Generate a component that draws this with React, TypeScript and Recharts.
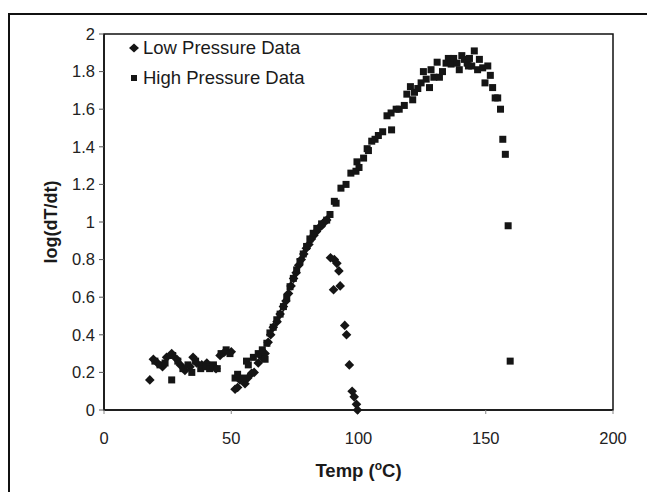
import React from "react";
import { ScatterChart, Scatter, XAxis, YAxis, ReferenceArea, Legend } from "recharts";

const lowPressureTemp = [
  18, 19.4, 21, 23, 24.6, 26.6, 28.6, 30, 31.8, 33.8, 35, 36.4, 38.4, 40.4, 42.3, 44, 45.6, 47.5, 50,
  51.5, 52.5, 53.4, 55.4, 56.5, 58, 59, 60.6, 62, 63.3, 64.5, 65.5, 66.5, 68, 69.2, 70.5, 71.5, 72.5,
  73.5, 74.5, 75.5, 76.5, 77.5, 78.5, 79.5, 80.5, 81.5, 82.5, 83.5, 84.5, 85.5, 86.5, 87.5,
  89, 90.5, 91.5, 92.3, 90.2, 92.8, 94.6, 95.3, 96.4, 97.5, 98.3, 99.2, 99.6,
];
const lowPressureLog = [
  0.16, 0.27, 0.25, 0.23, 0.28, 0.3, 0.27, 0.24, 0.21, 0.23, 0.28, 0.25, 0.24, 0.25, 0.23, 0.22, 0.29, 0.31, 0.31,
  0.11, 0.12, 0.16, 0.14, 0.17, 0.195, 0.2, 0.25, 0.28, 0.3, 0.36, 0.4, 0.44, 0.47, 0.51, 0.55, 0.58, 0.62,
  0.66, 0.7, 0.73, 0.77, 0.8, 0.83, 0.86, 0.88, 0.91, 0.93, 0.95, 0.97, 0.98, 1.0, 1.01,
  0.81, 0.8, 0.78, 0.74, 0.64, 0.66, 0.45, 0.4, 0.24, 0.1, 0.07, 0.03, 0.0,
];

const highPressureTemp = [
  20, 22, 24, 26.6, 27, 29, 31, 33, 34.5, 36, 38, 40, 41.5, 43, 44.5, 46, 48, 49.5,
  51.5, 52.5, 54.6, 56, 56.7, 58.7, 60.6, 62.2, 63.3, 64, 65.2, 66.5, 67.9, 69.2, 70.5, 71.8, 73.1,
  74.4, 75.7, 77, 78.3, 79.6, 80.9, 82.2, 83.6, 85.5, 87.5, 88.8, 90.5, 91.2, 93.1, 95.1, 97, 99,
  99.4, 100.2, 102, 103.4, 103.9, 105.2, 106.5, 107.8, 109.5, 113, 111.2, 112.8, 114.8, 116, 118,
  119, 121.3, 120.4, 122, 123.3, 124.6, 125.5, 126.6, 127.9, 128.5, 129.6, 130.9, 131.8, 133,
  134.4, 135.3, 136.4, 137.4, 138.7, 139.6, 140.6, 141.6, 142.7, 143.6, 143.2, 145.5, 144.5,
  146.8, 147.5, 148.8, 150.8, 149.7, 151.8, 152.7, 153.7, 154.7, 155.8, 156.7, 157.7, 158.8, 159.6,
];
const highPressureLog = [
  0.26, 0.24, 0.25, 0.16, 0.29, 0.26, 0.22, 0.24, 0.2, 0.26, 0.22, 0.23, 0.22, 0.24, 0.22, 0.3, 0.32, 0.3,
  0.17, 0.19, 0.17, 0.26, 0.24, 0.28, 0.3, 0.32, 0.27, 0.355, 0.41, 0.44, 0.48, 0.51, 0.55, 0.6, 0.656,
  0.7, 0.745, 0.79, 0.83, 0.87, 0.91, 0.94, 0.966, 0.99, 1.01, 1.04, 1.11, 1.1, 1.18, 1.2, 1.26, 1.27,
  1.32, 1.29, 1.34, 1.39, 1.38, 1.43, 1.44, 1.46, 1.48, 1.49, 1.565, 1.58, 1.6, 1.6, 1.62,
  1.68, 1.65, 1.72, 1.69, 1.71, 1.74, 1.8, 1.76, 1.715, 1.81, 1.77, 1.85, 1.77, 1.8,
  1.845, 1.87, 1.84, 1.87, 1.845, 1.81, 1.885, 1.865, 1.845, 1.87, 1.83, 1.91, 1.83,
  1.81, 1.865, 1.82, 1.83, 1.74, 1.78, 1.715, 1.66, 1.66, 1.6, 1.44, 1.36, 0.98, 0.26,
];

const xTicks = [0, 50, 100, 150, 200];
const yTicks = [0, 0.2, 0.4, 0.6, 0.8, 1, 1.2, 1.4, 1.6, 1.8, 2];
const seriesNames = ["Low Pressure Data", "High Pressure Data"];

const lowData = lowPressureTemp.map((t, i) => ({ temp: t, val: lowPressureLog[i] }));
const highData = highPressureTemp.map((t, i) => ({ temp: t, val: highPressureLog[i] }));

const INK = "#151515";
const FONT = "'Liberation Sans', Arial, sans-serif";

const DiamondShape = (props: any) => {
  const { cx, cy } = props;
  const r = 4.8;
  return (
    <polygon
      points={`${cx},${cy - r} ${cx + r},${cy} ${cx},${cy + r} ${cx - r},${cy}`}
      fill={INK}
    />
  );
};

const SquareShape = (props: any) => {
  const { cx, cy } = props;
  const s = 7;
  return <rect x={cx - s / 2} y={cy - s / 2} width={s} height={s} fill={INK} />;
};

const LegendContent = () => (
  <div style={{ fontFamily: FONT, fontSize: 18.5, color: "#1a1a1a", whiteSpace: "nowrap" }}>
    <div style={{ display: "flex", alignItems: "center", height: 30 }}>
      <svg width={12} height={12} style={{ marginRight: 2 }}>
        <polygon points="5,1.5 10,6 5,10.5 0,6" fill={INK} />
      </svg>
      <span>{seriesNames[0]}</span>
    </div>
    <div style={{ display: "flex", alignItems: "center", height: 30 }}>
      <svg width={12} height={12} style={{ marginRight: 2 }}>
        <rect x={2} y={3} width={6} height={6} fill={INK} />
      </svg>
      <span>{seriesNames[1]}</span>
    </div>
  </div>
);

const XLabel = (props: any) => {
  const { viewBox } = props;
  const cx = viewBox.x + viewBox.width / 2;
  return (
    <text x={cx} y={viewBox.y + 67} textAnchor="middle" fontFamily={FONT} fontWeight="bold" fontSize={18.5} fill="#1a1a1a">
      Temp (
      <tspan fontSize={12} dy={-7}>o</tspan>
      <tspan dy={7}>C)</tspan>
    </text>
  );
};

const YLabel = (props: any) => {
  const { viewBox } = props;
  const cy = viewBox.y + viewBox.height / 2;
  const x = 57;
  return (
    <text
      x={x}
      y={cy}
      textAnchor="middle"
      transform={`rotate(-90, ${x}, ${cy})`}
      fontFamily={FONT}
      fontWeight="bold"
      fontSize={18}
      fill="#1a1a1a"
    >
      log(dT/dt)
    </text>
  );
};

export default function App() {
  return (
    <div style={{ position: "absolute", left: 0, top: 0, width: 647, height: 492, overflow: "hidden", background: "#fff" }}>
      <div
        style={{
          position: "absolute",
          left: 8,
          top: 13,
          width: 700,
          height: 600,
          border: "2px solid #111",
          boxSizing: "border-box",
        }}
      />
      <div style={{ position: "absolute", left: 0, top: 0 }}>
        <ScatterChart width={647} height={492} margin={{ top: 34, right: 34, bottom: 22, left: 44 }}>
          <XAxis
            type="number"
            dataKey="temp"
            domain={[0, 200]}
            ticks={xTicks}
            height={60}
            tickSize={4}
            tickMargin={18}
            axisLine={{ stroke: "#111", strokeWidth: 1.5 }}
            tickLine={{ stroke: "#888" }}
            tick={{ fontFamily: FONT, fontSize: 16.5, fill: "#222" }}
            label={<XLabel />}
          />
          <YAxis
            type="number"
            dataKey="val"
            domain={[0, 2]}
            ticks={yTicks}
            width={60}
            tickSize={5}
            tickMargin={4}
            axisLine={{ stroke: "#111", strokeWidth: 1.5 }}
            tickLine={{ stroke: "#555" }}
            tick={{ fontFamily: FONT, fontSize: 16.5, fill: "#222" }}
            label={<YLabel />}
          />
          <ReferenceArea x1={0} x2={200} y1={0} y2={2} fill="none" stroke="#111" strokeWidth={1.5} fillOpacity={0} ifOverflow="visible" />
          <Legend
            layout="horizontal"
            verticalAlign="middle"
            align="center"
            wrapperStyle={{ top: 33, left: 129, width: "auto" }}
            content={<LegendContent />}
          />
          <Scatter name={seriesNames[0]} data={lowData} shape={<DiamondShape />} isAnimationActive={false} />
          <Scatter name={seriesNames[1]} data={highData} shape={<SquareShape />} isAnimationActive={false} />
        </ScatterChart>
      </div>
    </div>
  );
}
